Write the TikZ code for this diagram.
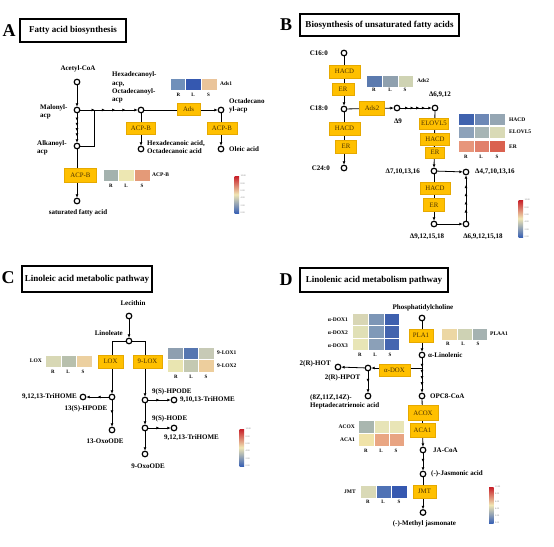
\documentclass[tikz,border=0pt]{standalone}
\usepackage{fontspec}
\setmainfont{Liberation Serif}
\usetikzlibrary{arrows.meta,decorations.markings,calc}
\pgfdeclarelayer{bg}
\pgfsetlayers{bg,main}
\definecolor{enzfill}{HTML}{FFC000}
\definecolor{enzdraw}{HTML}{E6A900}
\definecolor{enztext}{HTML}{4A3000}
\definecolor{cbred}{HTML}{C81E28}
\definecolor{cbmid}{HTML}{F0E6B4}
\definecolor{cbblue}{HTML}{3A62B4}
\newcommand{\hcell}[5]{\fill[#5, draw=white, line width=0.3pt] (#1,#2) rectangle (#3,#4);}
\newcommand{\mycbar}[3]{%
  \shade[top color=cbred, bottom color=cbblue, middle color=cbmid] (#1,#2) rectangle ++(4.5,#3);
  \foreach \i/\t in {0/10.00,1/8.00,2/6.00,3/4.00,4/2.00,5/0.00}{%
    \path (#1,#2) ++(6,{\i*#3/5}) node[tick] {\t};}}
\tikzset{
  met/.style={circle, draw=black, line width=1.2pt, minimum size=5.6pt, inner sep=0pt, fill=white},
  enz/.style={rectangle, fill=enzfill, draw=enzdraw, line width=0.3pt, inner sep=0pt,
    font=\fontsize{6.8}{7}\selectfont, text=enztext, minimum height=12pt},
  lab/.style={font=\bfseries\fontsize{7}{8.3}\selectfont, inner sep=0pt, align=left},
  hlab/.style={font=\bfseries\fontsize{5.5}{6}\selectfont, inner sep=0pt},
  rls/.style={font=\bfseries\fontsize{5}{5}\selectfont, inner sep=0pt},
  tick/.style={font=\fontsize{2.3}{2.5}\selectfont, text=gray, anchor=west, inner sep=0pt},
  titlebox/.style={draw=black, line width=1.2pt, font=\bfseries\fontsize{9}{10}\selectfont, inner sep=0pt},
  plet/.style={font=\bfseries\fontsize{18}{18}\selectfont, inner sep=0pt},
  conn/.style={line width=0.8pt, draw=black},
  arr/.style={conn, -{Latex[length=3.2pt,width=3pt]}},
  darr/.style={arr, decoration={markings, mark=at position 0.5 with {\arrow{Latex[length=3.2pt,width=3pt]}}}, postaction={decorate}},
  multi/.style={arr, decoration={markings, mark=between positions 0.25 and 0.8 step 0.18 with {\arrow{Latex[length=3.2pt,width=3pt]}}}, postaction={decorate}},
}
\begin{document}
\begin{tikzpicture}[x=1pt, y=-1pt]
\begin{pgfonlayer}{bg}
\fill[white] (0,0) rectangle (554,546);
\end{pgfonlayer}
\useasboundingbox (0,0) rectangle (554,546);

% ================= Panel A =================
\node[plet] (aLet) at (9,31) {A};
\node[titlebox, minimum width=106pt, minimum height=23pt] (aTitle) at (73,30.5) {Fatty acid biosynthesis};
\node[lab] (aAcL) at (78,69) {Acetyl-CoA};
\node[met] (aAc) at (77,82) {};
\node[met] (aMa) at (77,110) {};
\node[lab, anchor=west] (aMaL) at (40,112) {Malonyl-\\acp};
\node[met] (aAl) at (77,146) {};
\node[lab, anchor=west] (aAlL) at (37,148) {Alkanoyl-\\acp};
\coordinate (aJ) at (94,110);
\node[met] (aHx) at (141,110) {};
\node[lab, anchor=west] (aHxL) at (112,87.5) {Hexadecanoyl-\\acp,\\Octadecanoyl-\\acp};
\node[enz, minimum width=23pt] (aAds) at (188.5,109) {Ads};
\node[met] (aOc) at (221,110) {};
\node[lab, anchor=west] (aOcL) at (229,106) {Octadecano\\yl-acp};
\node[enz, minimum width=29pt] (aACP1) at (141,128) {ACP-B};
\node[met] (aHa) at (141,149) {};
\node[lab, anchor=west] (aHaL) at (147,147) {Hexadecanoic acid,\\Octadecanoic acid};
\node[enz, minimum width=30pt] (aACP2) at (222,128) {ACP-B};
\node[met] (aOl) at (221,149) {};
\node[lab, anchor=west] (aOlL) at (229,149) {Oleic acid};
\node[enz, minimum width=32pt, minimum height=14pt] (aACP3) at (80.5,175) {ACP-B};
\node[met] (aSat) at (77,201) {};
\node[lab] (aSatL) at (78,213) {saturated fatty acid};
% heatmaps A
\hcell{170}{78}{185.5}{90}{fill={rgb,255:red,112;green,144;blue,186}}
\hcell{185.5}{78}{201}{90}{fill={rgb,255:red,53;green,88;blue,176}}
\hcell{201}{78}{217}{90}{fill={rgb,255:red,234;green,196;blue,154}}
\node[hlab, anchor=west] (aHm1L) at (220,84) {Ads1};
\node[rls] (aR1) at (178.5,95) {R};
\node[rls] (aL1) at (193,95) {L};
\node[rls] (aS1) at (208.5,95) {S};
\hcell{103}{169}{118.5}{181.5}{fill={rgb,255:red,164;green,178;blue,174}}
\hcell{118.5}{169}{134}{181.5}{fill={rgb,255:red,237;green,231;blue,178}}
\hcell{134}{169}{150}{181.5}{fill={rgb,255:red,228;green,154;blue,120}}
\node[hlab, anchor=west] (aHm2L) at (152,175) {ACP-B};
\node[rls] (aR2) at (111,185.5) {R};
\node[rls] (aL2) at (126,185.5) {L};
\node[rls] (aS2) at (142,185.5) {S};
\mycbar{234.5}{176}{37}

% ================= Panel B =================
\node[plet] (bLet) at (286,25) {B};
\node[titlebox, minimum width=159pt, minimum height=22pt] (bTitle) at (379.5,25) {Biosynthesis of unsaturated fatty acids};
\node[met] (bC16) at (344,53) {};
\node[lab, anchor=east] (bC16L) at (328,53) {C16:0};
\node[enz, minimum width=31pt, minimum height=13pt] (bHACD1) at (344.5,71.5) {HACD};
\node[enz, minimum width=22pt] (bER1) at (343,89) {ER};
\node[met] (bC18) at (344,109) {};
\node[lab, anchor=east] (bC18L) at (328,108) {C18:0};
\node[enz, minimum width=25pt, minimum height=14pt] (bAds2) at (372,108) {Ads2};
\node[met] (bD9) at (397,108) {};
\node[lab] (bD9L) at (398,121) {Δ9};
\node[met] (bD6) at (435,108) {};
\node[lab] (bD6L) at (440,95) {Δ6,9,12};
\node[enz, minimum width=31pt, minimum height=13pt] (bHACD2) at (344.5,128.5) {HACD};
\node[enz, minimum width=21pt, minimum height=13pt] (bER2) at (346,146.5) {ER};
\node[met] (bC24) at (344,168) {};
\node[lab, anchor=east] (bC24L) at (330,168) {C24:0};
\node[enz, minimum width=29pt, minimum height=11pt] (bELO) at (434,123.5) {ELOVL5};
\node[enz, minimum width=29pt, minimum height=12pt] (bHACD3) at (435,139) {HACD};
\node[enz, minimum width=19pt, minimum height=11pt] (bER3) at (435,152.5) {ER};
\node[met] (bD7) at (434,171) {};
\node[lab, anchor=east] (bD7L) at (420,171.5) {Δ7,10,13,16};
\node[met] (bD4) at (466,172) {};
\node[lab, anchor=west] (bD4L) at (475,171.5) {Δ4,7,10,13,16};
\node[enz, minimum width=30pt, minimum height=12pt] (bHACD4) at (435,188) {HACD};
\node[enz, minimum width=21pt, minimum height=13pt] (bER4) at (434,205) {ER};
\node[met] (bD9b) at (434,224) {};
\node[lab] (bD9bL) at (427,237) {Δ9,12,15,18};
\node[met] (bD69) at (466,224) {};
\node[lab] (bD69L) at (483,237) {Δ6,9,12,15,18};
% heatmaps B
\hcell{366}{75}{382}{87}{fill={rgb,255:red,91;green,122;blue,174}}
\hcell{382}{75}{398}{87}{fill={rgb,255:red,143;green,160;blue,174}}
\hcell{398}{75}{413}{87}{fill={rgb,255:red,207;green,211;blue,179}}
\node[hlab, anchor=west] (bHm1L) at (417,81) {Ads2};
\node[rls] (bR1) at (374,90) {R};
\node[rls] (bL1) at (390,90) {L};
\node[rls] (bS1) at (405,90) {S};
\hcell{458}{113}{474}{125}{fill={rgb,255:red,63;green,98;blue,174}}
\hcell{474}{113}{489.5}{125}{fill={rgb,255:red,109;green,136;blue,182}}
\hcell{489.5}{113}{505}{125}{fill={rgb,255:red,149;green,166;blue,179}}
\hcell{458}{126.5}{474}{138.5}{fill={rgb,255:red,141;green,162;blue,186}}
\hcell{474}{126.5}{489.5}{138.5}{fill={rgb,255:red,167;green,181;blue,181}}
\hcell{489.5}{126.5}{505}{138.5}{fill={rgb,255:red,217;green,218;blue,182}}
\hcell{458}{140}{474}{152}{fill={rgb,255:red,231;green,150;blue,123}}
\hcell{474}{140}{489.5}{152}{fill={rgb,255:red,225;green,128;blue,107}}
\hcell{489.5}{140}{505}{152}{fill={rgb,255:red,218;green,97;blue,79}}
\node[hlab, anchor=west] (bHm2a) at (509,119.5) {HACD};
\node[hlab, anchor=west] (bHm2b) at (509,132) {ELOVL5};
\node[hlab, anchor=west] (bHm2c) at (509,146.5) {ER};
\node[rls] (bR2) at (466,157) {R};
\node[rls] (bL2) at (481,157) {L};
\node[rls] (bS2) at (497,157) {S};
\mycbar{518.5}{200}{37}

% ================= Panel C =================
\node[plet] (cLet) at (8,278) {C};
\node[titlebox, minimum width=130pt, minimum height=26pt] (cTitle) at (87,279) {Linoleic acid metabolic pathway};
\node[lab] (cLecL) at (133,303) {Lecithin};
\node[met] (cLec) at (129,316) {};
\node[met] (cLin) at (129,341) {};
\node[lab, anchor=east] (cLinL) at (123,333) {Linoleate};
\node[enz, minimum width=25pt, minimum height=13pt] (cLOX) at (110.5,361.5) {LOX};
\node[enz, minimum width=29pt, minimum height=13pt] (c9LOX) at (147.5,361.5) {9-LOX};
\node[met] (c13H) at (112,397) {};
\node[met] (c912a) at (83,397) {};
\node[lab, anchor=east] (c912aL) at (77,397) {9,12,13-TriHOME};
\node[lab] (c13HL) at (86,409) {13(S)-HPODE};
\node[met] (c13O) at (112,430) {};
\node[lab] (c13OL) at (105,441) {13-OxoODE};
\node[met] (c9H) at (145,400) {};
\node[lab, anchor=west] (c9HL) at (152,391.5) {9(S)-HPODE};
\node[met] (c91013) at (174,400) {};
\node[lab, anchor=west] (c91013L) at (180,400) {9,10,13-TriHOME};
\node[met] (c9HO) at (145,428) {};
\node[lab, anchor=west] (c9HOL) at (152,419) {9(S)-HODE};
\node[met] (c912b) at (174,428) {};
\node[lab, anchor=west] (c912bL) at (164,438) {9,12,13-TriHOME};
\node[met] (c9O) at (145,454) {};
\node[lab] (c9OL) at (148,466) {9-OxoODE};
% heatmaps C
\hcell{45}{355}{61}{367}{fill={rgb,255:red,216;green,216;blue,181}}
\hcell{61}{355}{76}{367}{fill={rgb,255:red,184;green,192;blue,173}}
\hcell{76}{355}{92}{367}{fill={rgb,255:red,236;green,208;blue,160}}
\node[hlab, anchor=east] (cHm1L) at (42,361) {LOX};
\node[rls] (cR1) at (53,372) {R};
\node[rls] (cL1) at (68,372) {L};
\node[rls] (cS1) at (83,372) {S};
\hcell{167}{347}{183}{359.5}{fill={rgb,255:red,142;green,159;blue,176}}
\hcell{183}{347}{198}{359.5}{fill={rgb,255:red,86;green,118;blue,176}}
\hcell{198}{347}{214}{359.5}{fill={rgb,255:red,199;green,202;blue,182}}
\hcell{167}{359.5}{183}{372}{fill={rgb,255:red,233;green,229;blue,177}}
\hcell{183}{359.5}{198}{372}{fill={rgb,255:red,196;green,201;blue,178}}
\hcell{198}{359.5}{214}{372}{fill={rgb,255:red,237;green,206;blue,157}}
\node[hlab, anchor=west] (cHm2a) at (217,353) {9-LOX1};
\node[hlab, anchor=west] (cHm2b) at (217,366) {9-LOX2};
\node[rls] (cR2) at (176,377) {R};
\node[rls] (cL2) at (191,377) {L};
\node[rls] (cS2) at (206,377) {S};
\mycbar{239.5}{429}{37}

% ================= Panel D =================
\node[plet] (dLet) at (286,280) {D};
\node[titlebox, minimum width=148pt, minimum height=24pt] (dTitle) at (374,280) {Linolenic acid metabolism pathway};
\node[lab] (dPCL) at (423,308) {Phosphatidylcholine};
\node[met] (dPC) at (422,318) {};
\node[enz, minimum width=24pt, minimum height=13pt] (dPLA) at (421,335.5) {PLA1};
\node[met] (dLin) at (422,355) {};
\node[lab, anchor=west] (dLinL) at (428,355) {α-Linolenic};
\node[enz, minimum width=31pt, minimum height=12pt] (dDOX) at (394.5,370.5) {α-DOX};
\node[met] (dHP) at (368,368) {};
\node[lab] (dHPL) at (342.5,378) {2(R)-HPOT};
\node[met] (dHOT) at (338,367) {};
\node[lab, anchor=east] (dHOTL) at (331,364) {2(R)-HOT};
\node[met] (dHep) at (368,396) {};
\node[lab, anchor=west] (dHepL) at (310,402) {(8Z,11Z,14Z)-\\Heptadecatrienoic acid};
\node[met] (dOPC) at (422,396) {};
\node[lab, anchor=west] (dOPCL) at (430,396) {OPC8-CoA};
\node[enz, minimum width=30pt, minimum height=15pt] (dACOX) at (423,413) {ACOX};
\node[enz, minimum width=25pt, minimum height=14pt] (dACA) at (422.5,430) {ACA1};
\node[met] (dJAC) at (423,450) {};
\node[lab, anchor=west] (dJACL) at (433,450) {JA-CoA};
\node[met] (dJA) at (423,474) {};
\node[lab, anchor=west] (dJAL) at (431,473.5) {(-)-Jasmonic acid};
\node[enz, minimum width=23pt, minimum height=13pt] (dJMT) at (424.5,491.5) {JMT};
\node[met] (dMJ) at (423,512.5) {};
\node[lab] (dMJL) at (424.5,524) {(-)-Methyl jasmonate};
% heatmaps D
\hcell{352}{313}{368}{325.5}{fill={rgb,255:red,216;green,214;blue,181}}
\hcell{368}{313}{384}{325.5}{fill={rgb,255:red,125;green,150;blue,182}}
\hcell{384}{313}{399}{325.5}{fill={rgb,255:red,62;green,96;blue,174}}
\hcell{352}{325.5}{368}{338}{fill={rgb,255:red,224;green,224;blue,182}}
\hcell{368}{325.5}{384}{338}{fill={rgb,255:red,127;green,153;blue,184}}
\hcell{384}{325.5}{399}{338}{fill={rgb,255:red,67;green,100;blue,174}}
\hcell{352}{338}{368}{350.5}{fill={rgb,255:red,232;green,229;blue,182}}
\hcell{368}{338}{384}{350.5}{fill={rgb,255:red,139;green,160;blue,184}}
\hcell{384}{338}{399}{350.5}{fill={rgb,255:red,69;green,102;blue,176}}
\node[hlab, anchor=east] (dHm1a) at (348,320) {α-DOX1};
\node[hlab, anchor=east] (dHm1b) at (348,333) {α-DOX2};
\node[hlab, anchor=east] (dHm1c) at (348,346) {α-DOX3};
\node[rls] (dR1) at (360,355) {R};
\node[rls] (dL1) at (375,355) {L};
\node[rls] (dS1) at (390,355) {S};
\hcell{441}{328}{457}{340}{fill={rgb,255:red,236;green,215;blue,164}}
\hcell{457}{328}{472}{340}{fill={rgb,255:red,206;green,210;blue,180}}
\hcell{472}{328}{487}{340}{fill={rgb,255:red,165;green,178;blue,177}}
\node[hlab, anchor=west] (dHm2L) at (490,334) {PLAA1};
\node[rls] (dR2) at (448,344) {R};
\node[rls] (dL2) at (463,344) {L};
\node[rls] (dS2) at (478,344) {S};
\hcell{358}{420}{374}{433}{fill={rgb,255:red,169;green,182;blue,175}}
\hcell{374}{420}{389}{433}{fill={rgb,255:red,231;green,228;blue,183}}
\hcell{389}{420}{404}{433}{fill={rgb,255:red,233;green,229;blue,182}}
\hcell{358}{433}{374}{446}{fill={rgb,255:red,240;green,227;blue,169}}
\hcell{374}{433}{389}{446}{fill={rgb,255:red,233;green,166;blue,131}}
\hcell{389}{433}{404}{446}{fill={rgb,255:red,232;green,164;blue,130}}
\node[hlab, anchor=east] (dHm3a) at (355,426.5) {ACOX};
\node[hlab, anchor=east] (dHm3b) at (355,440) {ACA1};
\node[rls] (dR3) at (366,451) {R};
\node[rls] (dL3) at (381,451) {L};
\node[rls] (dS3) at (396,451) {S};
\hcell{360}{485}{376}{498}{fill={rgb,255:red,217;green,217;blue,182}}
\hcell{376}{485}{391}{498}{fill={rgb,255:red,79;green,114;blue,181}}
\hcell{391}{485}{407}{498}{fill={rgb,255:red,53;green,88;blue,176}}
\node[hlab, anchor=east] (dHm4L) at (356,491.5) {JMT};
\node[rls] (dR4) at (368,502) {R};
\node[rls] (dL4) at (383,502) {L};
\node[rls] (dS4) at (399,502) {S};
\mycbar{489}{487}{36}

% ================= connectors =================
\begin{pgfonlayer}{bg}
% A
\draw[arr] (aAc) -- (aMa);
\draw[multi] (aMa) -- (aAl);
\draw[multi] (aMa) -- (aHx);
\draw[conn] (aAl) -| (aJ);
\draw[arr] (aHx) -- (aOc);
\draw[arr] (aHx) -- (aHa);
\draw[arr] (aOc) -- (aOl);
\draw[arr] (aAl) -- (aSat);
% B
\draw[arr] (bC16) -- (bC18);
\draw[arr] (bC18) -- (bD9);
\draw[multi] (bD9) -- (bD6);
\draw[arr] (bC18) -- (bC24);
\draw[arr] (bD6) -- (bD7);
\draw[arr] (bD7) -- (bD4);
\draw[arr] (bD7) -- (bD9b);
\draw[arr] (bD9b) -- (bD69);
\draw[multi] (bD69) -- (bD4);
% C
\draw[arr] (cLec) -- (cLin);
\draw[arr] (cLin) -| (c13H);
\draw[arr] (cLin) -| (c9H);
\draw[darr] (c13H) -- (c912a);
\draw[darr] (c13H) -- (c13O);
\draw[darr] (c9H) -- (c91013);
\draw[arr] (c9H) -- (c9HO);
\draw[darr] (c9HO) -- (c912b);
\draw[arr] (c9HO) -- (c9O);
% D
\draw[arr] (dPC) -- (dLin);
\draw[arr] (dLin) |- (dHP);
\draw[arr] (dHP) -- (dHOT);
\draw[darr] (dHP) -- (dHep);
\draw[multi] (dLin) -- (dOPC);
\draw[arr] (dOPC) -- (dJAC);
\draw[darr] (dJAC) -- (dJA);
\draw[arr] (dJA) -- (dMJ);
\end{pgfonlayer}
\end{tikzpicture}
\end{document}
